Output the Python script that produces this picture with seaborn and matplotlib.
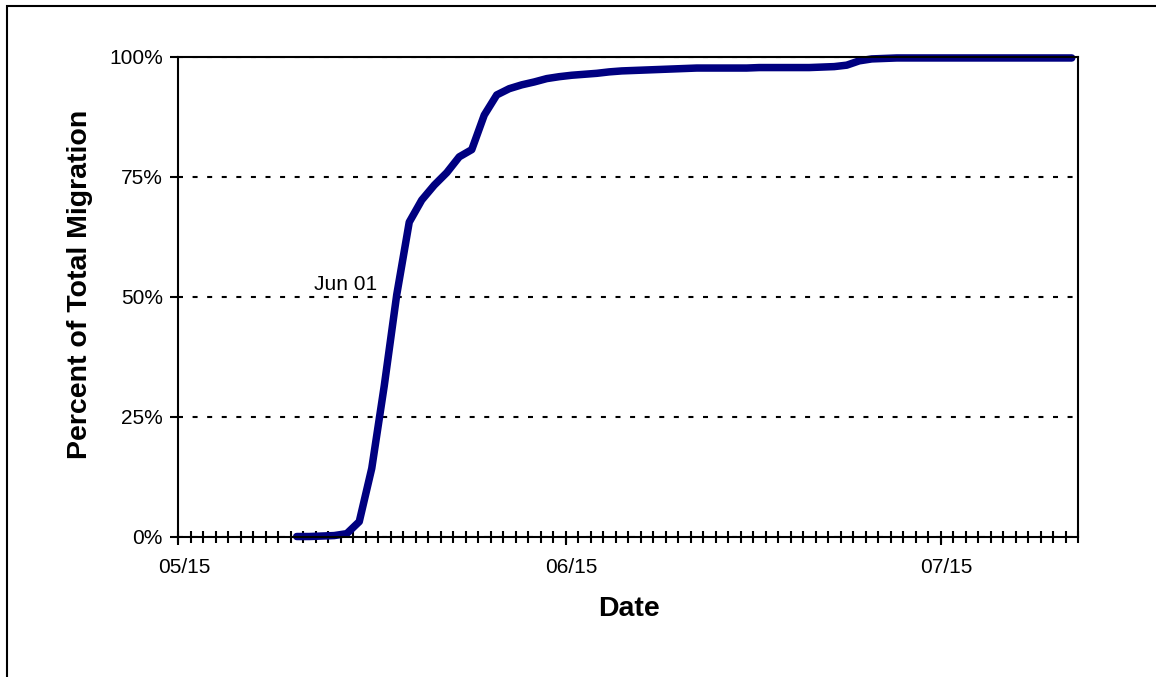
import matplotlib
matplotlib.use("Agg")
import matplotlib.pyplot as plt
import matplotlib.dates as mdates
from matplotlib.patches import Rectangle
from matplotlib.ticker import FixedLocator
import numpy as np
import pandas as pd
import seaborn as sns

# Cumulative share of the run, one value per day starting at migration_start
migration_start = "2002-05-24"
pct_migration = [
    0.1, 0.1, 0.2, 0.3, 0.7, 3.2, 14.3, 31.5, 50.5, 65.6,
    70.2, 73.3, 75.9, 79.2, 80.7, 87.9, 92.1, 93.4, 94.2, 94.8,
    95.5, 95.9, 96.2, 96.4, 96.6, 96.9, 97.1, 97.2, 97.3, 97.4,
    97.5, 97.6, 97.7, 97.7, 97.7, 97.7, 97.7, 97.8, 97.8, 97.8,
    97.8, 97.8, 97.9, 98.0, 98.3, 99.2, 99.6, 99.7, 99.8, 99.8,
    99.8, 99.8, 99.8, 99.8, 99.8, 99.8, 99.8, 99.8, 99.8, 99.8,
    99.8, 99.8, 99.8,
]

axis_first_day = "2002-05-15"
axis_last_day = "2002-07-25"
x_tick_dates = ["2002-05-15", "2002-06-15", "2002-07-15"]
x_tick_labels = ["05/15", "06/15", "07/15"]
y_ticks = [0, 25, 50, 75, 100]
y_tick_labels = ["0%", "25%", "50%", "75%", "100%"]
midpoint_date = "2002-06-01"
midpoint_label = "Jun 01"

sns.set_theme(style="white")
plt.rcParams["font.family"] = ["Liberation Sans", "DejaVu Sans"]
for key in ("text.color", "axes.labelcolor", "xtick.color", "ytick.color", "axes.edgecolor"):
    plt.rcParams[key] = "black"

W, H = 1156, 677
fig = plt.figure(figsize=(W / 100, H / 100), dpi=100)
fig.patch.set_facecolor("white")
ax = fig.add_axes([178 / W, 1 - 537 / H, 900 / W, 480 / H])

df = pd.DataFrame({
    "date": pd.date_range(migration_start, periods=len(pct_migration), freq="D"),
    "pct": pct_migration,
})

# dotted horizontal gridlines behind the curve
ax.set_axisbelow(True)
ax.yaxis.grid(True, color="black", linestyle=(0, (2.4, 4.6)), linewidth=1.5)
ax.xaxis.grid(False)

sns.lineplot(data=df, x="date", y="pct", ax=ax, color="#000080", linewidth=5.4,
             solid_joinstyle="round", solid_capstyle="round", clip_on=False)

x0 = mdates.datestr2num(axis_first_day) - 0.5
x1 = mdates.datestr2num(axis_last_day) + 0.5
ax.set_xlim(x0, x1)
ax.set_ylim(0, 100)

for side in ("left", "right", "top", "bottom"):
    ax.spines[side].set_visible(True)
    ax.spines[side].set_color("black")
    ax.spines[side].set_linewidth(1.5)

# labelled dates sit at day centres; tick marks sit on day boundaries
tick_nums = [mdates.datestr2num(d) for d in x_tick_dates]
ax.set_xticks(tick_nums)
ax.set_xticklabels(x_tick_labels)
ax.xaxis.set_minor_locator(FixedLocator(np.arange(x0, x1 + 0.01, 1.0)))
ax.tick_params(axis="x", which="major", bottom=True, length=0, pad=15, labelsize=15)
ax.tick_params(axis="x", which="minor", bottom=True, direction="inout", length=8.5, width=1.5)

sec = ax.secondary_xaxis("bottom")
sec.set_xticks([t - 0.5 for t in tick_nums])
sec.tick_params(axis="x", direction="out", length=6, width=1.5, labelbottom=False)
sec.spines["bottom"].set_visible(False)

ax.set_yticks(y_ticks)
ax.set_yticklabels(y_tick_labels)
ax.tick_params(axis="y", which="major", left=True, direction="out", length=6, width=1.5,
               pad=5, labelsize=15)

ax.set_xlabel("")
ax.set_ylabel("")
fig.text(80 / W, 1 - 284 / H, "Percent of Total Migration", rotation=90,
         ha="center", va="center", fontsize=20.5, fontweight="bold")
fig.text(629 / W, 1 - 609 / H, "Date", ha="center", va="center",
         fontsize=20.5, fontweight="bold")

mid_x = mdates.datestr2num(midpoint_date)
mid_y = df.loc[df["date"] == pd.Timestamp(midpoint_date), "pct"].iloc[0]
ax.annotate(midpoint_label, xy=(mid_x, mid_y), xytext=(-14, 7),
            textcoords="offset points", ha="right", va="center", fontsize=15)

# chart-area frame
fig.patches.append(Rectangle((6.5 / W, -0.5), 2.0, 1.5 - 6.5 / H,
                             transform=fig.transFigure, fill=False,
                             edgecolor="black", linewidth=1.5))

fig.savefig("out.png", dpi=100)
